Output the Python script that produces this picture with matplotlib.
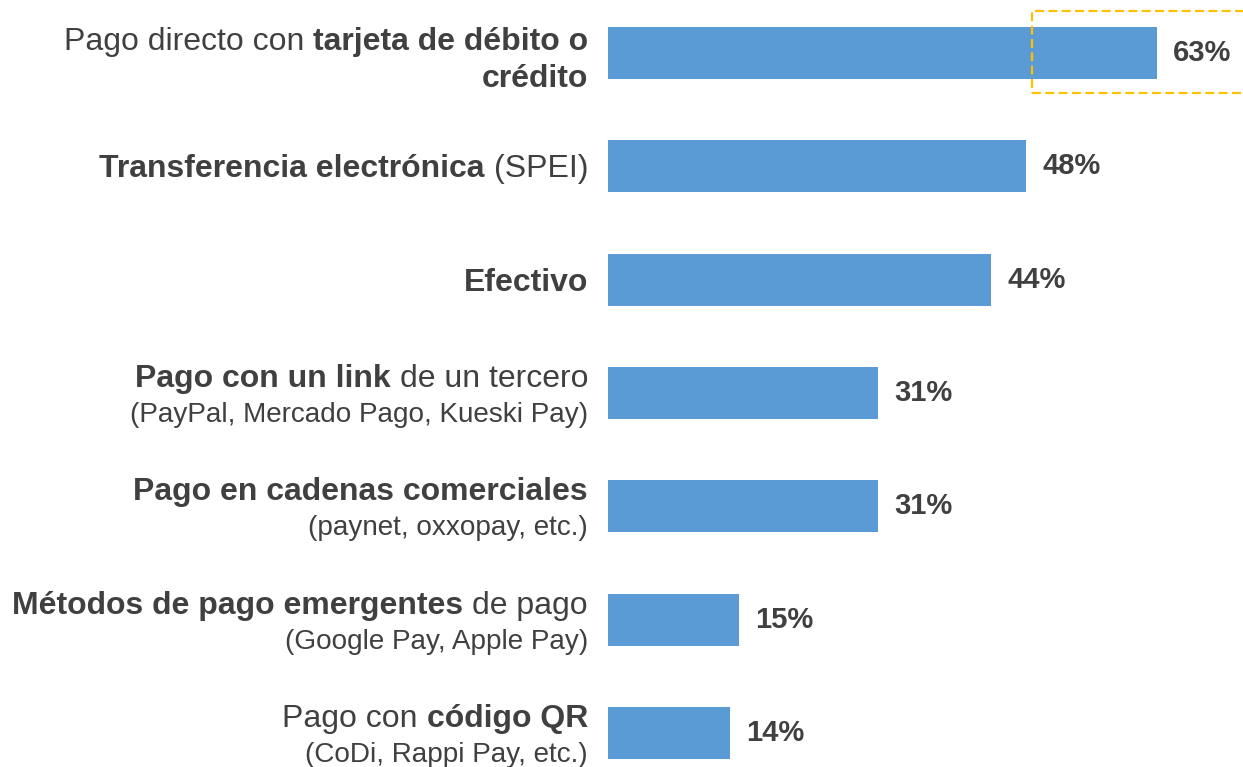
import matplotlib
matplotlib.use("Agg")
import matplotlib.pyplot as plt
from matplotlib.patches import Rectangle

# Payment methods: main line segments (text, bold?) plus optional subtitle
main_lines = [
    [[("Pago directo con", False), ("tarjeta de débito o", True)], [("crédito", True)]],
    [[("Transferencia electrónica", True), ("(SPEI)", False)]],
    [[("Efectivo", True)]],
    [[("Pago con un link", True), ("de un tercero", False)]],
    [[("Pago en cadenas comerciales", True)]],
    [[("Métodos de pago emergentes", True), ("de pago", False)]],
    [[("Pago con", False), ("código QR", True)]],
]
subtitles = [
    None,
    None,
    None,
    "(PayPal, Mercado Pago, Kueski Pay)",
    "(paynet, oxxopay, etc.)",
    "(Google Pay, Apple Pay)",
    "(CoDi, Rappi Pay, etc.)",
]
values = [63, 48, 44, 31, 31, 15, 14]
value_labels = [f"{v}%" for v in values]

W, H = 1243, 767
DPI = 100
BAR_COLOR = "#5B9BD5"
TEXT_COLOR = "#404040"
HIGHLIGHT = "#FFC000"
FONT = "Liberation Sans"
FS_MAIN = 23
FS_SUB = 20.1
FS_VAL = 21

plt.rcParams["font.family"] = [FONT, "DejaVu Sans"]

fig = plt.figure(figsize=(W / DPI, H / DPI), dpi=DPI)
fig.patch.set_facecolor("white")

# bar area: starts at x=608 px, 8.71 px per percentage point
x0_px = 608
px_per_unit = 8.71
row0_px, row_step = 53, 113.33
ax = fig.add_axes([x0_px / W, 0, 1 - x0_px / W, 1])
ax.set_xlim(0, (W - x0_px) / px_per_unit)
ax.set_ylim((H - row0_px) / row_step, -row0_px / row_step)
ax.axis("off")

ypos = list(range(len(values)))
ax.barh(ypos, values, height=0.46, color=BAR_COLOR, edgecolor="none")

for y, v, s in zip(ypos, values, value_labels):
    ax.annotate(s, (v, y), xytext=(16 * 72 / DPI, 0), textcoords="offset points",
                ha="left", va="center", fontsize=FS_VAL, fontweight="bold",
                color=TEXT_COLOR)

renderer = fig.canvas.get_renderer()


def draw_line(segments, x_right, y_base, fs):
    space_px = 0.278 * fs * DPI / 72
    xr = x_right
    for text, bold in reversed(segments):
        t = fig.text(xr / W, 1 - y_base / H, text, ha="right", va="baseline",
                     fontsize=fs, fontweight="bold" if bold else "normal",
                     color=TEXT_COLOR)
        bb = t.get_window_extent(renderer)
        xr = bb.x0 - space_px


label_right = 588
for i, (lines, sub) in enumerate(zip(main_lines, subtitles)):
    yc = row0_px + row_step * i
    if sub is None and len(lines) == 1:
        draw_line(lines[0], label_right, yc + 11, FS_MAIN)
    elif sub is None:
        # wrapped main label
        draw_line(lines[0], label_right, yc - 3, FS_MAIN)
        draw_line(lines[1], label_right, yc + 34, FS_MAIN)
    else:
        draw_line(lines[0], label_right, yc - 6, FS_MAIN)
        draw_line([(sub, False)], label_right, yc + 29, FS_SUB)

# dashed highlight around the top result
rect = Rectangle((1032 / W, 1 - 93 / H), 260 / W, 82 / H, transform=fig.transFigure,
                 fill=False, edgecolor=HIGHLIGHT, linewidth=1.6, linestyle=(0, (4, 2)),
                 clip_on=False)
fig.patches.append(rect)

fig.savefig("out.png", dpi=DPI, facecolor="white")
